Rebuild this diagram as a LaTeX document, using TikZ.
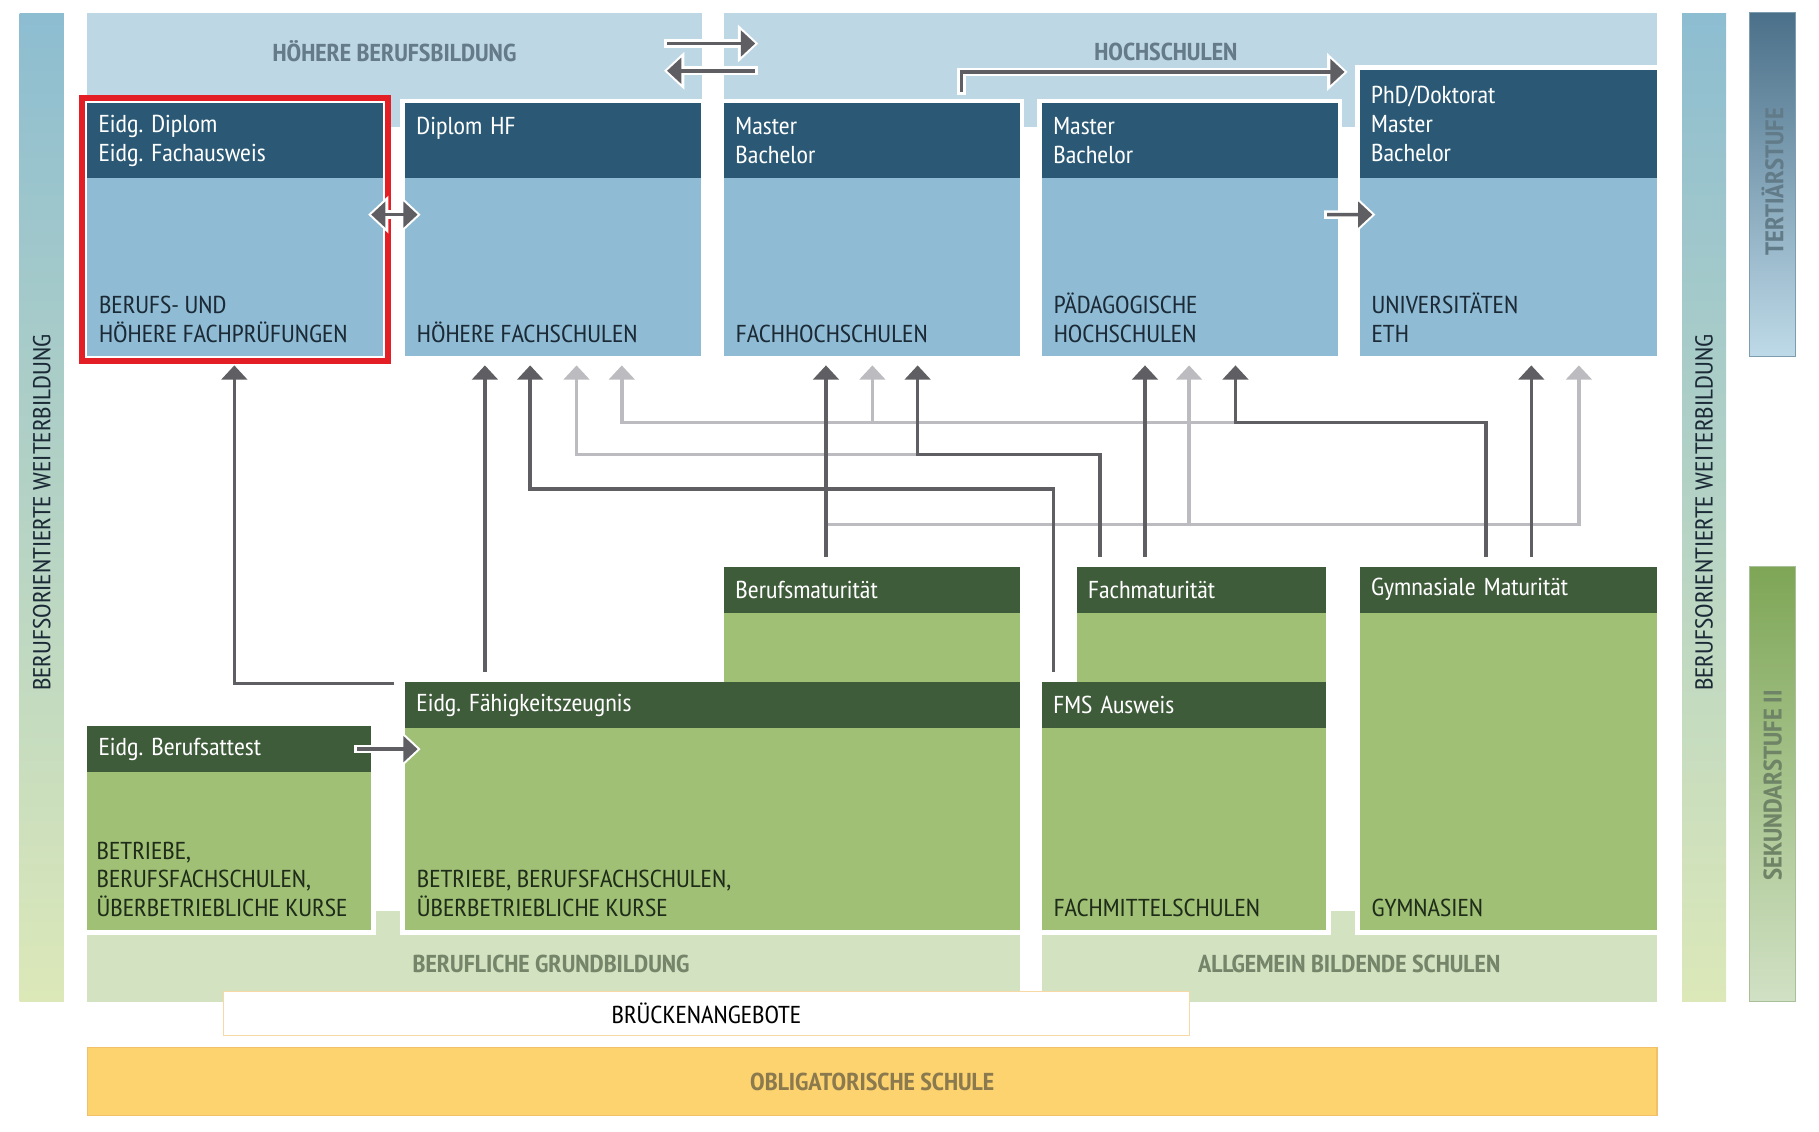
\documentclass[tikz,border=0pt]{standalone}
\usepackage{fontspec}
\setmainfont{PT Sans Narrow}[FakeStretch=1.08]
\usetikzlibrary{arrows.meta,calc,fit,backgrounds}
\frenchspacing

\definecolor{hdrblue}{HTML}{2B5975}
\definecolor{bodyblue}{HTML}{8FBCD4}
\definecolor{bandblue}{HTML}{BDD7E5}
\definecolor{hdrgreen}{HTML}{3E5B3A}
\definecolor{bodygreen}{HTML}{A0C075}
\definecolor{bandgreen}{HTML}{D3E2C0}
\definecolor{pathdark}{HTML}{5F5F63}
\definecolor{pathlight}{HTML}{BCBCC0}
\definecolor{obligorange}{HTML}{FDD36F}
\definecolor{obligline}{HTML}{F2C069}
\definecolor{bridgeline}{HTML}{F6D9A4}
\definecolor{markred}{HTML}{E31E24}
\definecolor{lblblue}{HTML}{657B8A}
\definecolor{lblgreen}{HTML}{74856A}
\definecolor{lblorange}{HTML}{8C7A4F}
\definecolor{txtblue}{HTML}{1B2A36}
\definecolor{txtgreen}{HTML}{1F2C1A}
\definecolor{barblue}{HTML}{8DBDD1}
\definecolor{barmid}{HTML}{C3DBCB}
\definecolor{bargreen}{HTML}{DCE8B8}
\definecolor{tertdark}{HTML}{4B7089}
\definecolor{tertmid}{HTML}{A4C5D7}
\definecolor{tertlight}{HTML}{BEDAE8}
\definecolor{tertline}{HTML}{7D9CAD}
\definecolor{sekdark}{HTML}{7EA656}
\definecolor{sekmid}{HTML}{B2CC9A}
\definecolor{seklight}{HTML}{D1E1C5}
\definecolor{sekline}{HTML}{A8BF98}
\definecolor{lbltert}{HTML}{627B89}
\definecolor{lblsek}{HTML}{6F8466}

\tikzset{
  txt/.style={font=\fontsize{12}{14.2}\selectfont},
  hdr/.style={txt, anchor=north west, outer sep=0pt, inner xsep=0.2cm, inner ysep=0pt,
    text width=#1, align=left, text=white},
  bhdr/.style={hdr=#1, fill=hdrblue, minimum height=1.29cm},
  ghdr/.style={hdr=#1, fill=hdrgreen, minimum height=0.79cm},
  body/.style 2 args={anchor=north west, outer sep=0pt, inner sep=0pt,
    minimum width=#1, minimum height=#2},
  bbody/.style 2 args={body={#1}{#2}, fill=bodyblue},
  gbody/.style 2 args={body={#1}{#2}, fill=bodygreen},
  foot/.style={txt, anchor=south west, inner sep=0pt, align=left, text=#1},
  mask/.style={fill=white, inner sep=0.08cm},
  bandlbl/.style={font=\fontsize{12}{14}\selectfont\bfseries, text=#1},
  sidelbl/.style={txt, rotate=90, text=#1},
  dk/.style={draw=pathdark, line width=1.7pt, ->},
  lt/.style={dk, draw=pathlight},
  halo/.style={preaction={draw=white, line width=4.2pt,
    >={Triangle[width=18pt,length=10pt]}, #1, shorten >=-1.5pt, shorten <=-1.5pt}}
}

\begin{document}
\begin{tikzpicture}[x=0.02cm, y=-0.02cm, >={Triangle[width=12.5pt,length=7pt]}]
\useasboundingbox (0,0) rectangle (1568,975);

% side bars
\shade[top color=barblue, middle color=barmid, bottom color=bargreen] (17,11.5) rectangle (55,863.5);
\shade[top color=barblue, middle color=barmid, bottom color=bargreen] (1450,11.5) rectangle (1488,863.5);
\shade[draw=tertline, line width=0.5pt, top color=tertdark, middle color=tertmid, bottom color=tertlight] (1508,11) rectangle (1548,307);
\shade[draw=sekline, line width=0.5pt, top color=sekdark, middle color=sekmid, bottom color=seklight] (1508,488.5) rectangle (1548,863.5);
\node[sidelbl=txtblue] (wb-l) at (36,442) {BERUFSORIENTIERTE WEITERBILDUNG};
\node[sidelbl=txtblue] (wb-r) at (1469,442) {BERUFSORIENTIERTE WEITERBILDUNG};
\node[sidelbl=lbltert, font=\fontsize{12.5}{14}\selectfont\bfseries] (tert) at (1528,156.5) {TERTIÄRSTUFE};
\node[sidelbl=lblsek, font=\fontsize{12.5}{14}\selectfont\bfseries] (sek) at (1528,677) {SEKUNDARSTUFE II};

% band titles
\node[bandlbl=lblblue] (hb) at (340,44.5) {HÖHERE BERUFSBILDUNG};
\node[bandlbl=lblblue] (hs) at (1005,44.5) {HOCHSCHULEN};
\node[bandlbl=lblgreen] (bg) at (475,831) {BERUFLICHE GRUNDBILDUNG};
\node[bandlbl=lblgreen] (ab) at (1163,831) {ALLGEMEIN BILDENDE SCHULEN};

% tertiary level
\node[bhdr=4.7cm] (hfp-h) at (75,89) {Eidg. Diplom\\Eidg. Fachausweis};
\node[bbody={5.1cm}{3.07cm}] (hfp) at (hfp-h.south west) {};
\node[foot=txtblue] (hfp-t) at ($(hfp.south west)+(10,-11)$) {BERUFS- UND\\HÖHERE FACHPRÜFUNGEN};

\node[bhdr=4.7cm] (hf-h) at (349,89) {Diplom HF\\\mbox{}};
\node[bbody={5.1cm}{3.07cm}] (hf) at (hf-h.south west) {};
\node[foot=txtblue] (hf-t) at ($(hf.south west)+(10,-11)$) {HÖHERE FACHSCHULEN};

\node[bhdr=4.7cm] (fh-h) at (624,89) {Master\\Bachelor};
\node[bbody={5.1cm}{3.07cm}] (fh) at (fh-h.south west) {};
\node[foot=txtblue] (fh-t) at ($(fh.south west)+(10,-11)$) {FACHHOCHSCHULEN};

\node[bhdr=4.7cm] (ph-h) at (898,89) {Master\\Bachelor};
\node[bbody={5.1cm}{3.07cm}] (ph) at (ph-h.south west) {};
\node[foot=txtblue] (ph-t) at ($(ph.south west)+(10,-11)$) {PÄDAGOGISCHE\\HOCHSCHULEN};

\node[bhdr=4.72cm, minimum height=1.87cm] (uni-h) at (1172,60) {PhD/Doktorat\\Master\\Bachelor};
\node[bbody={5.12cm}{3.07cm}] (uni) at (uni-h.south west) {};
\node[foot=txtblue] (uni-t) at ($(uni.south west)+(10,-11)$) {UNIVERSITÄTEN\\ETH};

% secondary level
\node[ghdr=4.7cm] (bm-h) at (624,488.5) {Berufsmaturität};
\node[gbody={5.1cm}{1.2cm}] (bm) at (bm-h.south west) {};
\node[ghdr=3.9cm] (fm-h) at (928,488.5) {Fachmaturität};
\node[gbody={4.3cm}{1.2cm}] (fm) at (fm-h.south west) {};
\node[ghdr=4.72cm] (gym-h) at (1172,488.5) {Gymnasiale Maturität};
\node[gbody={5.12cm}{5.48cm}] (gym) at (gym-h.south west) {};
\node[foot=txtgreen] (gym-t) at ($(gym.south west)+(10,-11)$) {GYMNASIEN};

\node[ghdr=10.2cm] (efz-h) at (349,588) {Eidg. Fähigkeitszeugnis};
\node[gbody={10.6cm}{3.49cm}] (efz) at (efz-h.south west) {};
\node[foot=txtgreen] (efz-t) at ($(efz.south west)+(10,-11)$) {BETRIEBE, BERUFSFACHSCHULEN,\\ÜBERBETRIEBLICHE KURSE};

\node[ghdr=4.5cm] (fms-h) at (898,588) {FMS Ausweis};
\node[gbody={4.9cm}{3.49cm}] (fms) at (fms-h.south west) {};
\node[foot=txtgreen] (fms-t) at ($(fms.south west)+(10,-11)$) {FACHMITTELSCHULEN};

\node[ghdr=4.5cm] (eba-h) at (75,626) {Eidg. Berufsattest};
\node[gbody={4.9cm}{2.73cm}] (eba) at (eba-h.south west) {};
\node[foot=txtgreen] (eba-t) at ($(eba.south west)+(8,-11)$) {BETRIEBE,\\BERUFSFACHSCHULEN,\\ÜBERBETRIEBLICHE KURSE};

% bridge and compulsory school
\node[draw=bridgeline, fill=white, line width=0.6pt, anchor=north west, minimum width=16.66cm,
  minimum height=0.76cm, txt] (bridge) at (192,854) {BRÜCKENANGEBOTE};
\node[draw=obligline, fill=obligorange, line width=0.6pt, anchor=north west, minimum width=27.06cm,
  minimum height=1.17cm, bandlbl=lblorange] (oblig) at (75,902.6) {OBLIGATORISCHE SCHULE};

% marked box
\node[draw=markred, line width=0.1cm, inner sep=0.09cm, fit=(hfp-h)(hfp)] (mark) {};

% arrow ends
\foreach \b/\i/\dx in {hfp/1/127, hf/1/69, hf/2/108, hf/3/148, hf/4/187, fh/1/88, fh/2/128,
  fh/3/167, ph/1/89, ph/2/127, ph/3/167, uni/1/148, uni/2/189}
  \coordinate (in-\b\i) at ($(\b.south west)+(\dx,8)$);

% pathways
\draw[dk] ($(efz-h.north west)+(-9,1)$) -| (in-hfp1);
\draw[dk] ($(efz-h.north west)+(69,-9)$) -- (in-hf1);
\draw[dk] ($(fms-h.north west)+(10,-9)$) -- ++(0,-157.5) -| (in-hf2);
\draw[dk] ($(bm-h.north west)+(88,-8.5)$) coordinate (bm-out) -- (in-fh1);
\draw[dk] ($(fm-h.north west)+(20,-8.5)$) -- ++(0,-88) coordinate (fm-turn) -| (in-fh3);
\draw[dk] ($(fm-h.north west)+(59,-8.5)$) -- (in-ph1);
\draw[dk] ($(gym-h.north west)+(109,-8.5)$) -- ++(0,-116) coordinate (gym-turn) -| (in-ph3);
\draw[dk] ($(gym-h.north west)+(148,-8.5)$) -- (in-uni1);

% transfers
\coordinate (hb-arrow) at (575,37.5);
\coordinate (hs-arrow) at (651,37.5);
\draw[dk, halo=->] (hb-arrow) -- (hs-arrow);
\draw[dk, halo=->] ($(hs-arrow)+(0,23.5)$) -- ($(hb-arrow)+(0,23.5)$);
\draw[dk, halo=->] ($(fh-h.north west)+(205,-10)$) |- ($(uni-h.north west)+(-13,2)$);
\draw[dk, <->, halo=<->] ($(hfp.north east)+(-10,31.5)$) -- ($(hf.north west)+(11,31.5)$);
\draw[dk, halo=->] ($(ph.north east)+(-9,31.5)$) -- ($(uni.north west)+(11,31.5)$);
\draw[dk, halo=->] ($(eba-h.east)+(-12,0)$) -- ($(eba-h.east -| efz.west)+(11,0)$);

\begin{scope}[on background layer]
\fill[bandblue] (75,11.5) rectangle (605,109.5);
\fill[bandblue] (624,11.5) rectangle (1428,109.5);
\fill[bandgreen] (75,785) rectangle (879,863.5);
\fill[bandgreen] (898,785) rectangle (1428,863.5);
\foreach \b in {hfp,hf,fh,ph,uni,bm,fm,gym,efz,fms,eba}
  \node[mask, fit=(\b-h)(\b)] (\b-m) {};
% pathways with extra requirements
\draw[lt] ($(bm-out)+(0,-28)$) coordinate (bm-split) -| (in-uni2);
\draw[lt] (in-ph2 |- bm-split) -- (in-ph2);
\draw[lt] (fm-turn) -| (in-hf3);
\draw[lt] (gym-turn) -| (in-hf4);
\draw[lt] (in-fh2 |- gym-turn) -- (in-fh2);
\end{scope}
\end{tikzpicture}
\end{document}
